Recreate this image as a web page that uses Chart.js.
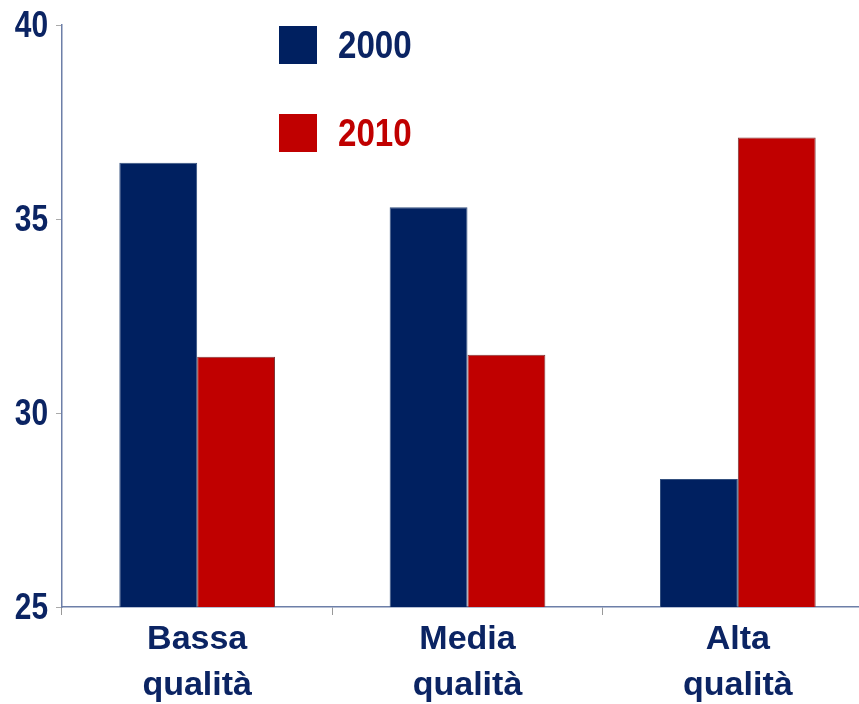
<!DOCTYPE html>
<html>
<head>
<meta charset="utf-8">
<script src="https://cdn.jsdelivr.net/npm/chart.js@4"></script>
<style>
  html, body { margin: 0; padding: 0; background: #ffffff; overflow: hidden; }
  #wrap { position: relative; width: 873px; height: 704px; }
</style>
</head>
<body>
<div id="wrap"><canvas id="c"></canvas></div>
<script>
const categories = [["Bassa", "qualità"], ["Media", "qualità"], ["Alta", "qualità"]];
const seriesNames = ["2000", "2010"];
const values2000 = [36.45, 35.3, 28.3];
const values2010 = [31.45, 31.5, 37.1];
const yTicks = [25, 30, 35, 40];

const BLUE = "#002060";
const RED = "#c00000";
const NAVY = "#0b2463";
const AXIS = "#6d7fa8";

function narrowText(ctx, text, x, y, align, k) {
  ctx.save();
  ctx.translate(x, y);
  ctx.scale(k, 1);
  ctx.textAlign = align;
  ctx.fillText(text, 0, 0);
  ctx.restore();
}

const customText = {
  id: "customText",
  afterDraw(chart) {
    const ctx = chart.ctx;
    ctx.save();
    const ys = chart.scales.y;
    ctx.fillStyle = NAVY;
    ctx.font = "bold 36px 'Liberation Sans', Arial, sans-serif";
    ctx.textBaseline = "middle";
    ys.ticks.forEach(t => {
      narrowText(ctx, String(t.value), 48, ys.getPixelForValue(t.value) + 2, "right", 0.83);
    });
    const x0 = 279, size = 38;
    const tops = [26, 114];
    chart.data.datasets.forEach((ds, i) => {
      ctx.fillStyle = ds.backgroundColor;
      ctx.fillRect(x0, tops[i], size, size);
      ctx.fillStyle = i === 0 ? NAVY : RED;
      ctx.font = "bold 39px 'Liberation Sans', Arial, sans-serif";
      ctx.textBaseline = "middle";
      narrowText(ctx, ds.label, 338, tops[i] + size / 2 + 2, "left", 0.85);
    });
    ctx.restore();
  }
};

new Chart(document.getElementById("c"), {
  type: "bar",
  data: {
    labels: categories,
    datasets: [
      { label: seriesNames[0], data: values2000, backgroundColor: BLUE, borderColor: "#34507f", borderWidth: 1 },
      { label: seriesNames[1], data: values2010, backgroundColor: RED, borderColor: "#7d3a3a", borderWidth: 1 }
    ]
  },
  options: {
    responsive: true,
    maintainAspectRatio: false,
    animation: false,
    layout: { padding: { left: 0, top: 25, right: 0, bottom: 0 } },
    datasets: { bar: { barPercentage: 1.0, categoryPercentage: 0.576 } },
    plugins: { legend: { display: false }, tooltip: { enabled: false } },
    scales: {
      x: {
        afterFit(scale) { scale.height = 97; },
        grid: { display: true, drawOnChartArea: false, tickLength: 8, color: "#999999", offset: true },
        border: { display: true, color: AXIS, width: 1.5 },
        ticks: {
          color: NAVY,
          font: { family: "'Liberation Sans', Arial, sans-serif", weight: "bold", size: 34, lineHeight: 1.35 },
          padding: 2,
          maxRotation: 0
        }
      },
      y: {
        min: 25, max: 40,
        afterBuildTicks(axis) { axis.ticks = yTicks.map(v => ({ value: v })); },
        afterFit(scale) { scale.width = 62; },
        grid: { display: true, drawOnChartArea: false, tickLength: 6, color: "#aaaaaa" },
        border: { display: true, color: AXIS, width: 1.5 },
        ticks: {
          color: "rgba(0,0,0,0)",
          font: { family: "'Liberation Sans', Arial, sans-serif", weight: "bold", size: 1 },
          padding: 8
        }
      }
    }
  },
  plugins: [customText]
});
</script>
</body>
</html>
